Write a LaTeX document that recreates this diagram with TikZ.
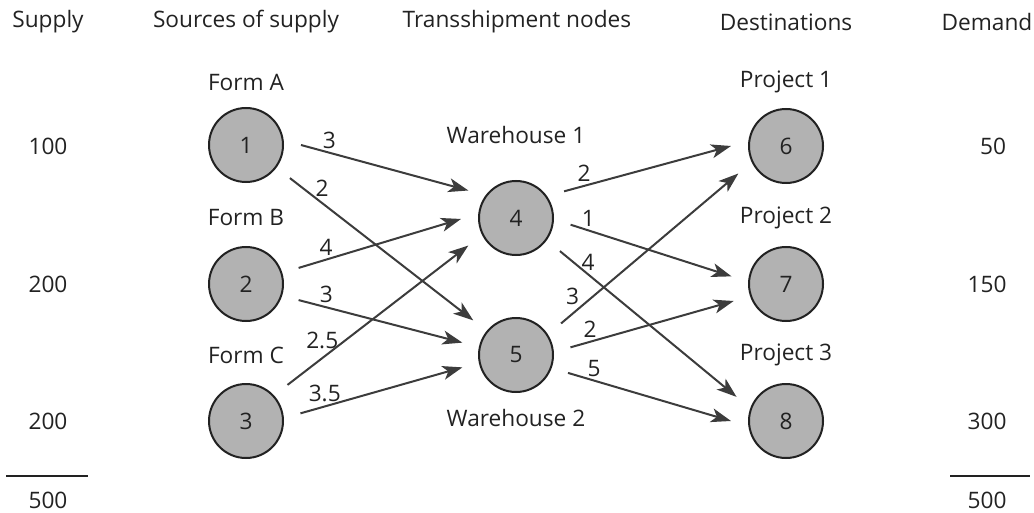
\documentclass[tikz,border=0pt]{standalone}
\usepackage{fontspec}
\setmainfont{Open Sans}
\usetikzlibrary{arrows.meta}
\definecolor{inkgray}{HTML}{3C3C3C}
\definecolor{textgray}{HTML}{222222}
\definecolor{placegray}{HTML}{B2B2B2}
\tikzset{
  place/.style={circle, draw=textgray, line width=1.5pt, fill=placegray,
    minimum size=55.5pt, inner sep=0pt, outer sep=13.5pt},
  flow/.style={draw=inkgray, line width=1.5pt,
    -{Stealth[length=15pt,width=10.5pt,inset=4pt]}},
  cost/.style={above, inner sep=2pt, yshift=0.5pt},
}
\begin{document}
\begin{tikzpicture}[x=0.75pt,y=-0.75pt,font=\fontsize{17}{20}\selectfont,text=textgray]
\useasboundingbox (0,0) rectangle (1034,513);
% column heads
\node (hsup) at (48,22) {Supply};
\node (hsrc) at (246,22) {Sources of supply};
\node (htra) at (517,22) {Transshipment nodes};
\node (hdst) at (786,22) {Destinations};
\node (hdem) at (987,22) {Demand};
% supply and demand
\node (s1) at (48,146) {100};
\node (s2) at (48,284) {200};
\node (s3) at (48,421) {200};
\draw [textgray, line width=1.2pt] (6,476) -- (88,476);
\node [inner sep=0pt] (stot) at (48,500) {500};
\node (d1) at (993,146) {50};
\node (d2) at (987,284) {150};
\node (d3) at (987,421) {300};
\draw [textgray, line width=1.2pt] (950,476) -- (1030,476);
\node [inner sep=0pt] (dtot) at (987,500) {500};
% sources
\node (fa) at (246,82) {Form A};
\node (fb) at (246,218) {Form B};
\node (fc) at (246,355) {Form C};
\node [place] (n1) at (246,145) {1};
\node [place] (n2) at (246,284) {2};
\node [place] (n3) at (246,421) {3};
% warehouses
\node (w1) at (516,135) {Warehouse 1};
\node (w2) at (516,418) {Warehouse 2};
\node [place] (n4) at (516,218) {4};
\node [place] (n5) at (516,355) {5};
% projects
\node (p1) at (786,82) {Project 1};
\node (p2) at (786,218) {Project 2};
\node (p3) at (786,355) {Project 3};
\node [place] (n6) at (786,146) {6};
\node [place] (n7) at (786,284) {7};
\node [place] (n8) at (786,421) {8};
% shipping costs
\draw [flow] (n1.0) -- node[cost, pos=0.17] {3} (n4.150);
\draw [flow] (n1.-37) -- node[cost, pos=0.19, xshift=-2pt, yshift=3pt] {2} (n5.141);
\draw [flow] (n2.17) -- node[cost, pos=0.17] {4} (n4.181);
\draw [flow] (n2.-17) -- node[cost, pos=0.17] {3} (n5.167);
\draw [flow] (n3.41) -- node[cost, pos=0.17, xshift=3pt, yshift=6pt] {2.5} (n4.210);
\draw [flow] (n3.8) -- node[cost, pos=0.15] {3.5} (n5.193);
\draw [flow] (n4.29) -- node[cost, pos=0.12] {2} (n6.180);
\draw [flow] (n4.-7) -- node[cost, pos=0.11] {1} (n7.172);
\draw [flow] (n4.-37) -- node[cost, pos=0.16] {4} (n8.154);
\draw [flow] (n5.35) -- node[cost, pos=0.05, xshift=2pt, yshift=5pt] {3} (n6.210);
\draw [flow] (n5.8) -- node[cost, pos=0.12] {2} (n7.198);
\draw [flow] (n5.-19) -- node[cost, pos=0.16] {5} (n8.180);
\end{tikzpicture}
\end{document}
